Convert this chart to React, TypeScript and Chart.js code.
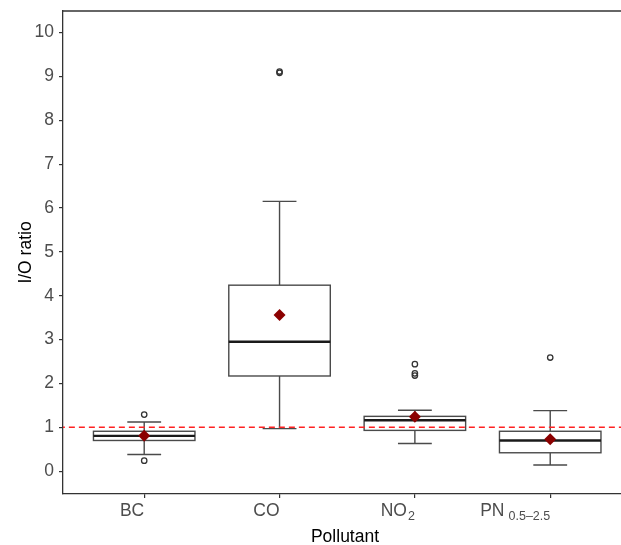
import React, { useEffect, useRef } from "react";
import { Chart, registerables } from "chart.js";

Chart.register(...registerables);

const categories = ["BC", "CO", "NO2", "PN0.5-2.5"];
const labelMain = ["BC", "CO", "NO", "PN"];
const labelSub = ["", "", "2", "0.5\u20132.5"];
const lowerWhisker = [0.38, 0.97, 0.63, 0.14];
const q1 = [0.7, 2.17, 0.93, 0.42];
const median = [0.805, 2.95, 1.16, 0.7];
const q3 = [0.91, 4.24, 1.25, 0.91];
const upperWhisker = [1.12, 6.15, 1.39, 1.38];
const means = [0.81, 3.56, 1.24, 0.73];
const outliers = [[1.29, 0.24], [9.08, 9.11], [2.44, 2.23, 2.18], [2.59]];
const yTicks = [0, 1, 2, 3, 4, 5, 6, 7, 8, 9, 10];
const referenceLine = 1;
const xTitle = "Pollutant";
const yTitle = "I/O ratio";

const FONT = "'Liberation Sans', Arial, sans-serif";

const boxPlugin = {
  id: "boxes",
  beforeDatasetsDraw(chart: any) {
    const { ctx, scales, chartArea } = chart;
    const x = scales.x;
    const y = scales.y;
    const unit = x.getPixelForValue(1) - x.getPixelForValue(0);
    const hw = unit * 0.375;
    const cw = unit * 0.125;
    ctx.save();
    ctx.beginPath();
    ctx.rect(chartArea.left, chartArea.top, chartArea.right - chartArea.left, chartArea.bottom - chartArea.top);
    ctx.clip();
    categories.forEach((_, i) => {
      const cx = x.getPixelForValue(i);
      const yq1 = y.getPixelForValue(q1[i]);
      const yq3 = y.getPixelForValue(q3[i]);
      const ylo = y.getPixelForValue(lowerWhisker[i]);
      const yhi = y.getPixelForValue(upperWhisker[i]);
      const ymed = y.getPixelForValue(median[i]);
      ctx.strokeStyle = "#4a4a4a";
      ctx.lineWidth = 1.4;
      ctx.beginPath();
      ctx.moveTo(cx, yhi);
      ctx.lineTo(cx, yq3);
      ctx.moveTo(cx, yq1);
      ctx.lineTo(cx, ylo);
      ctx.moveTo(cx - cw, yhi);
      ctx.lineTo(cx + cw, yhi);
      ctx.moveTo(cx - cw, ylo);
      ctx.lineTo(cx + cw, ylo);
      ctx.stroke();
      ctx.fillStyle = "#fff";
      ctx.fillRect(cx - hw, yq3, 2 * hw, yq1 - yq3);
      ctx.strokeRect(cx - hw, yq3, 2 * hw, yq1 - yq3);
      ctx.strokeStyle = "#1a1a1a";
      ctx.lineWidth = 2.4;
      ctx.beginPath();
      ctx.moveTo(cx - hw, ymed);
      ctx.lineTo(cx + hw, ymed);
      ctx.stroke();
    });
    ctx.restore();
  },
  afterDraw(chart: any) {
    const { ctx, scales, chartArea, width } = chart;
    const x = scales.x;
    ctx.save();
    // top panel border
    ctx.strokeStyle = "#333";
    ctx.lineWidth = 1.3;
    ctx.beginPath();
    ctx.moveTo(chartArea.left, chartArea.top);
    ctx.lineTo(width, chartArea.top);
    ctx.stroke();
    // x tick labels (right aligned at tick, with subscripts)
    const baseY = chartArea.bottom + 22;
    categories.forEach((_, i) => {
      const tx = x.getPixelForValue(i);
      ctx.fillStyle = "#4d4d4d";
      ctx.textBaseline = "alphabetic";
      ctx.textAlign = "right";
      let right = tx;
      if (labelSub[i]) {
        ctx.font = `12.5px ${FONT}`;
        ctx.fillText(labelSub[i], right, baseY + 4);
        const w = ctx.measureText(labelSub[i]).width;
        right = right - w - (i === 3 ? 4 : 1);
      }
      ctx.font = `17.5px ${FONT}`;
      ctx.fillText(labelMain[i], right, baseY);
    });
    // x title
    ctx.fillStyle = "#000";
    ctx.font = `17.5px ${FONT}`;
    ctx.textAlign = "center";
    ctx.fillText(xTitle, 345, 542);
    // y title
    ctx.translate(31, (chartArea.top + chartArea.bottom) / 2);
    ctx.rotate(-Math.PI / 2);
    ctx.fillText(yTitle, 0, 0);
    ctx.restore();
  },
};

export default function App() {
  const ref = useRef<HTMLCanvasElement | null>(null);
  useEffect(() => {
    if (!ref.current) return;
    const chart = new Chart(ref.current, {
      type: "scatter",
      data: {
        datasets: [
          {
            label: "mean",
            data: means.map((v, i) => ({ x: i, y: v })),
            pointStyle: "rectRot",
            pointRadius: 6,
            backgroundColor: "#8b0000",
            borderColor: "#8b0000",
            borderWidth: 0,
          },
          {
            label: "outliers",
            data: outliers.flatMap((arr, i) => arr.map((v) => ({ x: i, y: v }))),
            pointStyle: "circle",
            pointRadius: 2.7,
            backgroundColor: "rgba(255,255,255,0)",
            borderColor: "#333",
            borderWidth: 1.3,
          },
          {
            label: "ref",
            data: [
              { x: -1, y: referenceLine },
              { x: 5, y: referenceLine },
            ],
            showLine: true,
            pointRadius: 0,
            borderColor: "#f22",
            borderWidth: 1.5,
            borderDash: [6, 4],
          },
        ],
      },
      options: {
        animation: false,
        responsive: false,
        events: [],
        layout: { autoPadding: false, padding: { top: 11, right: 0, left: 0, bottom: 0 } },
        plugins: { legend: { display: false }, tooltip: { enabled: false } },
        scales: {
          x: {
            type: "linear",
            min: -0.6,
            max: 3.523,
            afterBuildTicks: (s: any) => {
              s.ticks = categories.map((_, i) => ({ value: i }));
            },
            afterFit: (s: any) => {
              s.height = 51;
              s.paddingLeft = 0;
              s.paddingRight = 0;
            },
            ticks: { display: false },
            grid: { display: true, drawOnChartArea: false, drawTicks: true, tickLength: 4, color: "#333", lineWidth: 1.2 },
            border: { display: true, color: "#333", width: 1.3 },
          },
          y: {
            type: "linear",
            min: -0.52,
            max: 10.49,
            afterBuildTicks: (s: any) => {
              s.ticks = yTicks.map((v) => ({ value: v }));
            },
            afterFit: (s: any) => {
              s.width = 63;
              s.paddingTop = 0;
              s.paddingBottom = 0;
            },
            ticks: {
              color: "#4d4d4d",
              font: { family: FONT, size: 17.5 },
              padding: 5,
              callback: (v: any) => String(v),
            },
            grid: { display: true, drawOnChartArea: false, drawTicks: true, tickLength: 4, color: "#333", lineWidth: 1.2 },
            border: { display: true, color: "#333", width: 1.3 },
          },
        },
      },
      plugins: [boxPlugin],
    });
    return () => chart.destroy();
  }, []);
  return (
    <div style={{ position: "absolute", left: 0, top: 0, width: 621, height: 545, background: "#fff" }}>
      <canvas ref={ref} width={621} height={545} />
    </div>
  );
}
